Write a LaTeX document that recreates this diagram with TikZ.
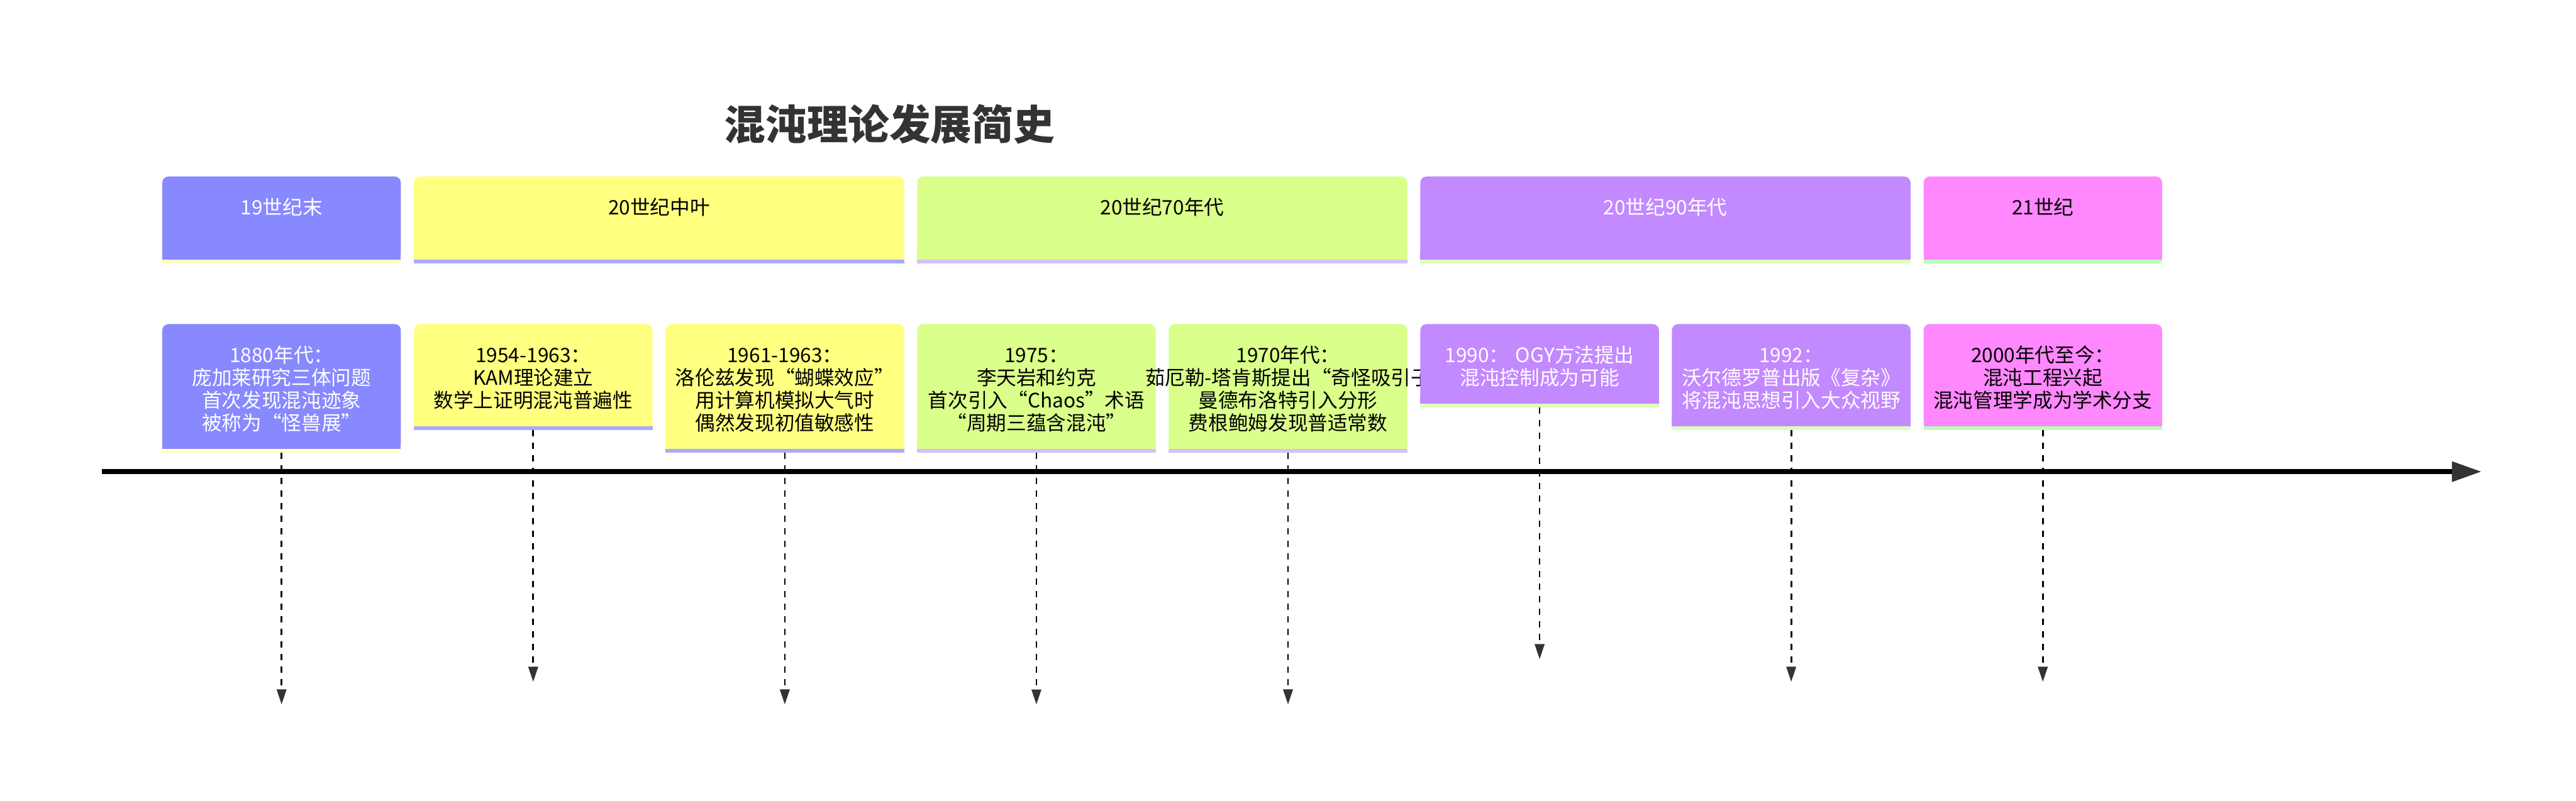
\documentclass[tikz,border=0pt]{standalone}
\usepackage{fontspec}
\setmainfont{Noto Sans CJK SC}
\usetikzlibrary{arrows.meta, positioning}

\definecolor{ChaosBlue}{HTML}{8888FF}
\definecolor{ChaosYellow}{HTML}{FFFF80}
\definecolor{ChaosGreen}{HTML}{DAFF8A}
\definecolor{ChaosPurple}{HTML}{C389FF}
\definecolor{ChaosPink}{HTML}{FF88FF}
\definecolor{StripeA}{HTML}{FFFFC4}
\definecolor{StripeB}{HTML}{AAAAFF}
\definecolor{StripeC}{HTML}{D4BFFF}
\definecolor{StripeD}{HTML}{DDFFBB}
\definecolor{StripeE}{HTML}{BBFFBB}
\definecolor{TipGray}{HTML}{333333}

\begin{document}
\begin{tikzpicture}[
      every node/.style={align=center, outer sep=0pt, font=\fontsize{13.5}{15.4}\selectfont},
      title/.style={font=\fontsize{28}{32}\selectfont\bfseries, text=TipGray},
      era/.style={rounded corners=0.15cm, inner ysep=0.41cm, text height=0.5cm, text depth=0.66cm, anchor=north west},
      event/.style={rounded corners=0.15cm, text width=5.69cm, inner xsep=0pt, inner ysep=0.41cm, text height=0.5cm, anchor=north west},
      stem/.style={-{Triangle[length=0.36cm, width=0.23cm, color=TipGray]}, line width=0.04cm, dash pattern=on 0.15cm off 0.15cm},
      axis/.style={-{Triangle[length=0.71cm, width=0.46cm, color=TipGray]}, line width=0.12cm}
   ]
      \useasboundingbox (0,0) rectangle (61.43,-19.10);
      \node[title] (ttl) at (21.21,-2.96) {混沌理论发展简史};
      % eras
      \node[era, fill=ChaosBlue, text=white, minimum width=5.69cm] (h1) at (3.87,-4.21) {19世纪末};
      \node[era, fill=ChaosYellow, minimum width=11.69cm, right=0.31cm of h1.north east, anchor=north west] (h2) {20世纪中叶};
      \node[era, fill=ChaosGreen, minimum width=11.69cm, right=0.31cm of h2.north east, anchor=north west] (h3) {20世纪70年代};
      \node[era, fill=ChaosPurple, text=white, minimum width=11.69cm, right=0.31cm of h3.north east, anchor=north west] (h4) {20世纪90年代};
      \node[era, fill=ChaosPink, minimum width=5.69cm, right=0.31cm of h4.north east, anchor=north west] (h5) {21世纪};
      % events
      \node[event, fill=ChaosBlue, text=white, below=1.54cm of h1.south west, anchor=north west] (ev1) {1880年代：\\庞加莱研究三体问题\\首次发现混沌迹象\\被称为“怪兽展”};
      \node[event, fill=ChaosYellow, right=0.31cm of ev1.north east, anchor=north west] (ev2) {1954-1963：\\KAM理论建立\\数学上证明混沌普遍性};
      \node[event, fill=ChaosYellow, right=0.31cm of ev2.north east, anchor=north west] (ev3) {1961-1963：\\洛伦兹发现“蝴蝶效应”\\用计算机模拟大气时\\偶然发现初值敏感性};
      \node[event, fill=ChaosGreen, right=0.31cm of ev3.north east, anchor=north west] (ev4) {1975：\\李天岩和约克\\首次引入“Chaos”术语\\“周期三蕴含混沌”};
      \node[event, fill=ChaosGreen, right=0.31cm of ev4.north east, anchor=north west] (ev5) {1970年代：\\\makebox[\linewidth][c]{茹厄勒-塔肯斯提出“奇怪吸引子}\\曼德布洛特引入分形\\费根鲍姆发现普适常数};
      \node[event, fill=ChaosPurple, text=white, right=0.31cm of ev5.north east, anchor=north west] (ev6) {1990： OGY方法提出\\混沌控制成为可能};
      \node[event, fill=ChaosPurple, text=white, right=0.31cm of ev6.north east, anchor=north west] (ev7) {1992：\\沃尔德罗普出版《复杂》\\将混沌思想引入大众视野};
      \node[event, fill=ChaosPink, right=0.31cm of ev7.north east, anchor=north west] (ev8) {2000年代至今：\\混沌工程兴起\\混沌管理学成为学术分支};
      % square bottoms and stripes
      \foreach \n/\c/\s in {h1/ChaosBlue/StripeA, ev1/ChaosBlue/StripeA, h2/ChaosYellow/StripeB, ev2/ChaosYellow/StripeB, ev3/ChaosYellow/StripeB, h3/ChaosGreen/StripeC, ev4/ChaosGreen/StripeC, ev5/ChaosGreen/StripeC, h4/ChaosPurple/StripeD, ev6/ChaosPurple/StripeD, ev7/ChaosPurple/StripeD, h5/ChaosPink/StripeE, ev8/ChaosPink/StripeE} {
         \fill[\c] ([yshift=0.2cm]\n.south west) rectangle (\n.south east);
         \fill[\s] (\n.south west) rectangle ([yshift=-0.09cm]\n.south east);
      }
      % timeline
      \coordinate (axL) at (2.43,-11.25);
      \coordinate (axR) at (59.18,-11.25);
      \draw[axis] (axL) -- (axR);
      \foreach \i in {1,...,8} {
         \coordinate (end\i) at ([yshift=-6.09cm]ev\i.south);
         \draw[stem] ([yshift=-0.09cm]ev\i.south) -- (end\i);
      }
   \end{tikzpicture}
\end{document}
